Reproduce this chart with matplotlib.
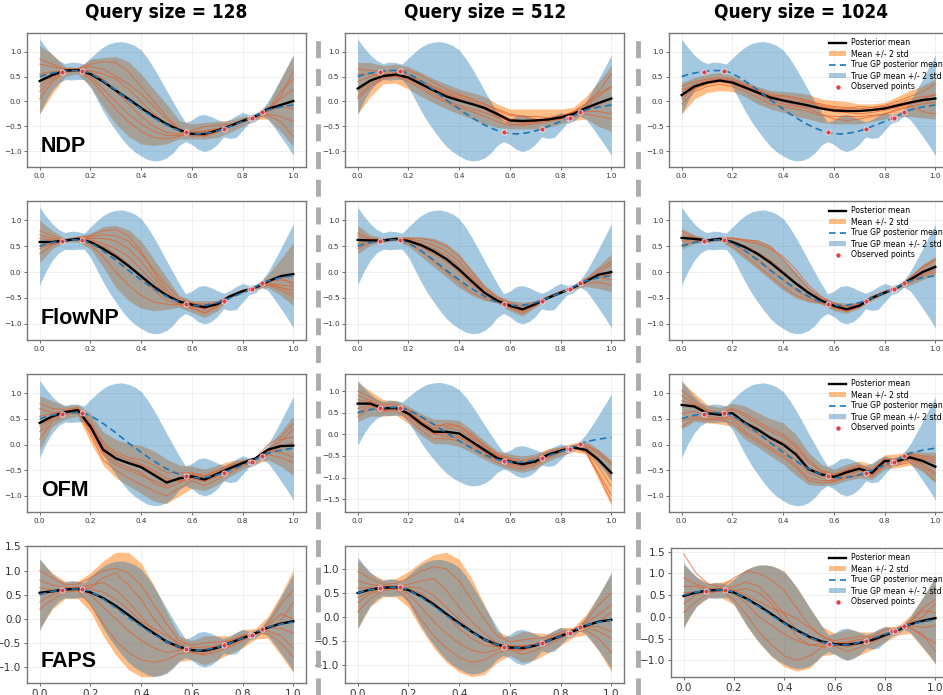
import numpy as np
import matplotlib
matplotlib.use("Agg")
import matplotlib.pyplot as plt
from matplotlib.lines import Line2D
from matplotlib.ticker import MultipleLocator
from matplotlib import font_manager as fm

# ---------------- data ----------------
# shared grid (x) for model outputs
x_grid = [0.00, 0.05, 0.10, 0.15, 0.20, 0.25, 0.30, 0.35, 0.40, 0.45, 0.50,
          0.55, 0.60, 0.65, 0.70, 0.75, 0.80, 0.85, 0.90, 0.95, 1.00]
# finer grid for the true GP posterior
x_true = [0.000, 0.025, 0.050, 0.075, 0.100, 0.125, 0.150, 0.175, 0.200, 0.225,
          0.250, 0.275, 0.300, 0.325, 0.350, 0.375, 0.400, 0.425, 0.450, 0.475,
          0.500, 0.525, 0.550, 0.575, 0.600, 0.625, 0.650, 0.675, 0.700, 0.725,
          0.750, 0.775, 0.800, 0.825, 0.850, 0.875, 0.900, 0.925, 0.950, 0.975, 1.000]
true_mean = [0.50, 0.54, 0.57, 0.59, 0.61, 0.62, 0.62, 0.61, 0.56, 0.49, 0.41, 0.32, 0.23,
             0.13, 0.03, -0.06, -0.15, -0.24, -0.32, -0.40, -0.47, -0.53, -0.58, -0.62,
             -0.64, -0.65, -0.64, -0.62, -0.59, -0.55, -0.50, -0.45, -0.40, -0.35, -0.29,
             -0.22, -0.17, -0.14, -0.11, -0.09, -0.07]
true_hi = [1.25, 1.08, 0.93, 0.82, 0.76, 0.79, 0.78, 0.75, 0.87, 0.99, 1.09, 1.16, 1.19,
           1.20, 1.17, 1.12, 1.03, 0.87, 0.67, 0.45, 0.22, 0.00, -0.22, -0.42, -0.37,
           -0.28, -0.26, -0.30, -0.36, -0.41, -0.36, -0.28, -0.22, -0.26, -0.24, -0.16,
           0.00, 0.22, 0.45, 0.69, 0.93]
true_lo = [-0.25, 0.02, 0.23, 0.37, 0.44, 0.43, 0.44, 0.44, 0.29, 0.05, -0.19, -0.40, -0.58,
           -0.75, -0.90, -1.01, -1.09, -1.16, -1.19, -1.18, -1.13, -1.03, -0.88, -0.80,
           -0.86, -0.96, -1.00, -0.96, -0.86, -0.71, -0.74, -0.72, -0.58, -0.44, -0.40,
           -0.29, -0.36, -0.52, -0.70, -0.88, -1.08]
obs_x = [0.088, 0.165, 0.577, 0.725, 0.828, 0.838, 0.875]
obs_y = [0.60, 0.62, -0.62, -0.55, -0.33, -0.33, -0.22]

methods = ["NDP", "FlowNP", "OFM", "FAPS"]
query_sizes = [128, 512, 1024]

# ---- NDP ----
ndp128_mean = [0.41, 0.53, 0.62, 0.63, 0.55, 0.40, 0.22, 0.05, -0.13, -0.30, -0.45, -0.57, -0.65, -0.65, -0.58, -0.49, -0.39, -0.30, -0.15, -0.07, 0.01]
ndp128_hi = [1.12, 0.95, 0.70, 0.68, 0.85, 0.88, 0.90, 0.80, 0.55, 0.25, -0.05, -0.38, -0.45, -0.42, -0.40, -0.37, -0.30, -0.27, -0.05, 0.45, 0.93]
ndp128_lo = [-0.25, 0.15, 0.50, 0.55, 0.30, -0.10, -0.45, -0.70, -0.85, -0.88, -0.85, -0.75, -0.75, -0.75, -0.72, -0.62, -0.50, -0.36, -0.35, -0.60, -0.90]
ndp128_samples = [
    [0.85, 0.75, 0.65, 0.66, 0.75, 0.80, 0.78, 0.60, 0.30, 0.00, -0.30, -0.55, -0.62, -0.60, -0.55, -0.48, -0.38, -0.30, -0.20, 0.10, 0.60],
    [0.05, 0.40, 0.58, 0.62, 0.50, 0.25, 0.00, -0.25, -0.45, -0.60, -0.68, -0.68, -0.66, -0.64, -0.58, -0.50, -0.40, -0.32, -0.28, -0.40, -0.70],
    [0.55, 0.60, 0.62, 0.64, 0.62, 0.55, 0.45, 0.25, 0.00, -0.25, -0.45, -0.60, -0.70, -0.68, -0.60, -0.48, -0.36, -0.28, -0.15, 0.05, 0.25],
    [0.30, 0.50, 0.60, 0.60, 0.45, 0.15, -0.15, -0.40, -0.60, -0.72, -0.75, -0.70, -0.62, -0.58, -0.55, -0.50, -0.42, -0.30, -0.25, -0.30, -0.40],
    [0.75, 0.70, 0.63, 0.65, 0.70, 0.65, 0.50, 0.35, 0.15, -0.10, -0.35, -0.55, -0.65, -0.70, -0.62, -0.50, -0.40, -0.30, -0.20, -0.10, -0.15],
    [0.20, 0.45, 0.60, 0.63, 0.60, 0.45, 0.20, -0.05, -0.30, -0.50, -0.62, -0.65, -0.58, -0.50, -0.48, -0.45, -0.40, -0.28, -0.18, 0.20, 0.45],
]
ndp512_mean = [0.26, 0.42, 0.51, 0.54, 0.48, 0.35, 0.22, 0.10, 0.02, -0.05, -0.13, -0.25, -0.38, -0.39, -0.38, -0.36, -0.32, -0.25, -0.13, -0.03, 0.06]
ndp512_hi = [0.78, 0.78, 0.72, 0.75, 0.70, 0.58, 0.45, 0.35, 0.25, 0.18, 0.10, -0.05, -0.15, -0.15, -0.15, -0.15, -0.15, -0.12, 0.10, 0.40, 0.72]
ndp512_lo = [-0.25, 0.10, 0.35, 0.37, 0.25, 0.10, -0.03, -0.15, -0.25, -0.35, -0.45, -0.52, -0.55, -0.55, -0.55, -0.52, -0.45, -0.38, -0.35, -0.50, -0.60]
ndp512_samples = [
    [0.65, 0.62, 0.60, 0.63, 0.62, 0.52, 0.38, 0.25, 0.15, 0.05, -0.05, -0.18, -0.28, -0.30, -0.30, -0.32, -0.28, -0.22, -0.05, 0.15, 0.30],
    [0.05, 0.30, 0.45, 0.50, 0.40, 0.25, 0.10, -0.02, -0.12, -0.20, -0.30, -0.40, -0.48, -0.45, -0.42, -0.38, -0.35, -0.30, -0.25, -0.30, -0.35],
    [0.40, 0.50, 0.55, 0.58, 0.55, 0.42, 0.30, 0.20, 0.12, 0.05, -0.05, -0.15, -0.25, -0.30, -0.35, -0.38, -0.30, -0.20, -0.05, 0.20, 0.55],
    [0.20, 0.40, 0.50, 0.52, 0.45, 0.30, 0.15, 0.02, -0.08, -0.15, -0.22, -0.32, -0.45, -0.48, -0.45, -0.40, -0.35, -0.28, -0.18, -0.05, 0.05],
    [0.55, 0.55, 0.52, 0.55, 0.50, 0.40, 0.28, 0.15, 0.08, 0.00, -0.10, -0.22, -0.35, -0.38, -0.38, -0.35, -0.30, -0.25, -0.20, -0.20, -0.25],
    [0.10, 0.35, 0.48, 0.52, 0.45, 0.35, 0.25, 0.15, 0.05, -0.05, -0.15, -0.30, -0.40, -0.42, -0.40, -0.35, -0.30, -0.22, -0.10, 0.10, 0.30],
]
ndp1024_mean = [0.13, 0.30, 0.38, 0.42, 0.38, 0.28, 0.18, 0.08, 0.02, -0.03, -0.08, -0.14, -0.18, -0.19, -0.19, -0.17, -0.14, -0.08, -0.02, 0.03, 0.06]
ndp1024_hi = [0.38, 0.48, 0.55, 0.58, 0.52, 0.40, 0.30, 0.22, 0.20, 0.18, 0.14, 0.05, 0.02, 0.00, -0.05, -0.05, -0.02, 0.10, 0.22, 0.32, 0.45]
ndp1024_lo = [-0.25, 0.05, 0.18, 0.22, 0.20, 0.10, -0.05, -0.15, -0.22, -0.30, -0.35, -0.42, -0.45, -0.45, -0.45, -0.40, -0.35, -0.30, -0.30, -0.33, -0.35]
ndp1024_samples = [
    [0.30, 0.40, 0.45, 0.48, 0.45, 0.35, 0.25, 0.15, 0.10, 0.05, 0.00, -0.05, -0.10, -0.12, -0.15, -0.12, -0.08, 0.00, 0.10, 0.20, 0.35],
    [-0.05, 0.20, 0.30, 0.35, 0.30, 0.20, 0.08, -0.05, -0.10, -0.15, -0.20, -0.28, -0.30, -0.30, -0.30, -0.28, -0.25, -0.18, -0.10, -0.05, -0.02],
    [0.20, 0.35, 0.42, 0.45, 0.42, 0.32, 0.22, 0.12, 0.05, 0.00, -0.02, -0.10, -0.15, -0.18, -0.20, -0.18, -0.15, -0.10, -0.05, 0.05, 0.15],
    [0.05, 0.25, 0.35, 0.40, 0.35, 0.25, 0.15, 0.05, 0.00, -0.08, -0.15, -0.25, -0.35, -0.38, -0.35, -0.30, -0.25, -0.15, -0.10, -0.20, -0.25],
    [0.25, 0.30, 0.38, 0.40, 0.38, 0.30, 0.20, 0.10, 0.12, 0.08, 0.02, -0.08, -0.12, -0.15, -0.10, -0.12, -0.10, -0.05, 0.05, 0.10, 0.12],
    [0.10, 0.28, 0.36, 0.42, 0.40, 0.28, 0.15, 0.02, -0.05, -0.10, -0.12, -0.15, -0.20, -0.22, -0.25, -0.22, -0.18, -0.12, -0.05, 0.00, 0.05],
]

# ---- FlowNP ----
flownp128_mean = [0.58, 0.58, 0.61, 0.64, 0.58, 0.45, 0.30, 0.12, -0.08, -0.28, -0.45, -0.57, -0.63, -0.68, -0.62, -0.47, -0.37, -0.30, -0.18, -0.08, -0.04]
flownp128_hi = [1.00, 0.80, 0.65, 0.70, 0.75, 0.88, 0.90, 0.82, 0.60, 0.25, -0.10, -0.45, -0.55, -0.55, -0.55, -0.45, -0.33, -0.30, -0.05, 0.25, 0.57]
flownp128_lo = [0.18, 0.45, 0.58, 0.58, 0.45, 0.10, -0.30, -0.55, -0.70, -0.75, -0.72, -0.68, -0.78, -0.88, -0.75, -0.50, -0.40, -0.33, -0.30, -0.45, -0.65]
flownp128_samples = [
    [0.80, 0.70, 0.63, 0.66, 0.70, 0.80, 0.82, 0.70, 0.40, 0.00, -0.35, -0.55, -0.60, -0.65, -0.60, -0.45, -0.35, -0.30, -0.22, -0.25, -0.28],
    [0.35, 0.52, 0.60, 0.62, 0.52, 0.30, 0.00, -0.25, -0.45, -0.58, -0.62, -0.63, -0.70, -0.80, -0.68, -0.50, -0.38, -0.31, -0.25, -0.30, -0.42],
    [0.65, 0.62, 0.61, 0.65, 0.65, 0.65, 0.60, 0.45, 0.20, -0.10, -0.40, -0.58, -0.65, -0.72, -0.62, -0.46, -0.36, -0.30, -0.18, -0.15, -0.20],
    [0.50, 0.55, 0.60, 0.63, 0.60, 0.50, 0.35, 0.15, -0.10, -0.35, -0.55, -0.62, -0.68, -0.78, -0.65, -0.48, -0.38, -0.31, -0.20, -0.30, -0.35],
    [0.72, 0.65, 0.62, 0.65, 0.68, 0.72, 0.70, 0.60, 0.35, 0.05, -0.25, -0.50, -0.60, -0.62, -0.58, -0.45, -0.35, -0.30, -0.25, -0.35, -0.48],
    [0.45, 0.55, 0.60, 0.64, 0.62, 0.55, 0.45, 0.30, 0.05, -0.20, -0.45, -0.60, -0.66, -0.70, -0.64, -0.47, -0.37, -0.30, -0.15, -0.10, -0.25],
]
flownp512_mean = [0.62, 0.61, 0.61, 0.64, 0.60, 0.52, 0.40, 0.25, 0.05, -0.18, -0.40, -0.55, -0.65, -0.72, -0.62, -0.50, -0.40, -0.30, -0.18, -0.05, 0.00]
flownp512_hi = [0.90, 0.72, 0.66, 0.68, 0.68, 0.68, 0.65, 0.55, 0.35, 0.05, -0.25, -0.45, -0.55, -0.58, -0.55, -0.45, -0.35, -0.30, -0.10, 0.12, 0.35]
flownp512_lo = [0.35, 0.52, 0.57, 0.60, 0.50, 0.30, 0.10, -0.10, -0.30, -0.45, -0.55, -0.60, -0.75, -0.85, -0.68, -0.52, -0.42, -0.33, -0.28, -0.32, -0.38]
flownp512_samples = [
    [0.75, 0.65, 0.62, 0.66, 0.66, 0.65, 0.60, 0.50, 0.30, 0.00, -0.28, -0.48, -0.60, -0.65, -0.58, -0.47, -0.37, -0.30, -0.15, 0.05, 0.20],
    [0.45, 0.56, 0.60, 0.62, 0.55, 0.40, 0.20, 0.00, -0.20, -0.40, -0.52, -0.58, -0.70, -0.80, -0.66, -0.51, -0.40, -0.31, -0.22, -0.20, -0.25],
    [0.62, 0.62, 0.61, 0.64, 0.62, 0.55, 0.45, 0.32, 0.12, -0.12, -0.38, -0.55, -0.66, -0.74, -0.63, -0.50, -0.40, -0.30, -0.18, -0.08, -0.05],
    [0.55, 0.58, 0.61, 0.63, 0.58, 0.48, 0.35, 0.20, 0.00, -0.25, -0.45, -0.56, -0.68, -0.77, -0.64, -0.50, -0.40, -0.31, -0.20, 0.00, 0.15],
    [0.70, 0.63, 0.61, 0.65, 0.64, 0.60, 0.52, 0.40, 0.20, -0.08, -0.33, -0.50, -0.62, -0.70, -0.60, -0.48, -0.38, -0.30, -0.12, -0.10, -0.15],
]
flownp1024_mean = [0.66, 0.64, 0.61, 0.64, 0.58, 0.48, 0.35, 0.18, -0.02, -0.22, -0.40, -0.55, -0.65, -0.72, -0.65, -0.50, -0.40, -0.30, -0.15, 0.00, 0.10]
flownp1024_hi = [0.85, 0.72, 0.65, 0.68, 0.68, 0.65, 0.62, 0.50, 0.25, 0.00, -0.28, -0.48, -0.58, -0.60, -0.58, -0.45, -0.35, -0.30, -0.08, 0.15, 0.30]
flownp1024_lo = [0.45, 0.55, 0.57, 0.60, 0.45, 0.25, 0.05, -0.15, -0.35, -0.50, -0.58, -0.62, -0.75, -0.80, -0.70, -0.55, -0.42, -0.33, -0.25, -0.15, -0.05]
flownp1024_samples = [
    [0.78, 0.68, 0.62, 0.66, 0.66, 0.62, 0.60, 0.50, 0.25, -0.05, -0.32, -0.50, -0.60, -0.66, -0.60, -0.47, -0.37, -0.30, -0.10, 0.10, 0.25],
    [0.52, 0.58, 0.60, 0.62, 0.50, 0.32, 0.12, -0.08, -0.28, -0.45, -0.55, -0.60, -0.70, -0.76, -0.68, -0.52, -0.41, -0.31, -0.20, -0.08, 0.00],
    [0.66, 0.64, 0.61, 0.64, 0.60, 0.50, 0.38, 0.22, 0.02, -0.20, -0.38, -0.54, -0.66, -0.74, -0.66, -0.50, -0.40, -0.30, -0.15, 0.02, 0.12],
    [0.60, 0.60, 0.61, 0.63, 0.55, 0.40, 0.25, 0.05, -0.15, -0.35, -0.50, -0.58, -0.68, -0.75, -0.66, -0.51, -0.40, -0.31, -0.18, -0.05, 0.05],
    [0.72, 0.66, 0.62, 0.65, 0.65, 0.60, 0.55, 0.45, 0.30, 0.05, -0.25, -0.47, -0.60, -0.68, -0.62, -0.48, -0.38, -0.30, -0.12, 0.08, 0.22],
]

# ---- OFM ----
ofm128_mean = [0.42, 0.55, 0.63, 0.67, 0.35, -0.10, -0.27, -0.36, -0.44, -0.59, -0.74, -0.66, -0.62, -0.68, -0.57, -0.46, -0.36, -0.27, -0.10, -0.03, -0.02]
ofm128_hi = [0.95, 0.85, 0.75, 0.78, 0.60, 0.25, 0.10, 0.02, -0.02, -0.12, -0.28, -0.40, -0.42, -0.48, -0.40, -0.32, -0.28, -0.25, -0.05, 0.25, 0.55]
ofm128_lo = [-0.10, 0.35, 0.50, 0.55, 0.05, -0.40, -0.65, -0.80, -0.95, -1.10, -1.15, -1.00, -0.85, -0.90, -0.78, -0.62, -0.48, -0.38, -0.30, -0.42, -0.60]
ofm128_samples = [
    [0.80, 0.70, 0.68, 0.72, 0.45, 0.05, -0.15, -0.25, -0.30, -0.40, -0.55, -0.55, -0.55, -0.60, -0.50, -0.40, -0.32, -0.27, -0.15, 0.05, 0.30],
    [0.10, 0.45, 0.58, 0.62, 0.20, -0.30, -0.50, -0.65, -0.78, -0.90, -1.00, -0.85, -0.70, -0.80, -0.68, -0.55, -0.42, -0.30, -0.20, -0.25, -0.35],
    [0.55, 0.60, 0.65, 0.70, 0.38, -0.05, -0.25, -0.35, -0.40, -0.55, -0.70, -0.70, -0.65, -0.70, -0.60, -0.48, -0.38, -0.28, -0.10, 0.10, 0.15],
    [0.35, 0.52, 0.62, 0.66, 0.30, -0.15, -0.35, -0.45, -0.55, -0.75, -0.85, -0.75, -0.60, -0.65, -0.55, -0.45, -0.35, -0.27, -0.12, -0.15, -0.25],
    [0.70, 0.62, 0.64, 0.68, 0.25, -0.20, -0.40, -0.50, -0.60, -0.70, -0.80, -0.62, -0.58, -0.62, -0.52, -0.42, -0.35, -0.28, 0.00, 0.15, 0.40],
    [0.25, 0.50, 0.60, 0.64, 0.40, 0.00, -0.20, -0.30, -0.38, -0.50, -0.65, -0.72, -0.66, -0.72, -0.62, -0.50, -0.38, -0.28, -0.18, -0.05, 0.05],
]
ofm512_mean = [0.71, 0.71, 0.60, 0.61, 0.48, 0.25, 0.06, 0.06, 0.02, -0.17, -0.36, -0.55, -0.63, -0.69, -0.63, -0.47, -0.38, -0.30, -0.36, -0.59, -0.89]
ofm512_hi = [1.20, 1.00, 0.80, 0.78, 0.65, 0.48, 0.35, 0.35, 0.32, 0.10, -0.15, -0.38, -0.45, -0.50, -0.45, -0.33, -0.28, -0.20, -0.15, -0.35, -0.60]
ofm512_lo = [0.30, 0.42, 0.42, 0.45, 0.25, -0.02, -0.22, -0.22, -0.28, -0.42, -0.58, -0.72, -0.82, -0.88, -0.80, -0.62, -0.50, -0.40, -0.45, -1.05, -1.65]
ofm512_samples = [
    [1.00, 0.85, 0.70, 0.70, 0.58, 0.38, 0.22, 0.20, 0.18, -0.05, -0.25, -0.45, -0.55, -0.60, -0.55, -0.40, -0.33, -0.27, -0.25, -0.45, -0.70],
    [0.40, 0.60, 0.52, 0.55, 0.35, 0.10, -0.10, -0.10, -0.15, -0.30, -0.50, -0.65, -0.75, -0.80, -0.72, -0.55, -0.42, -0.32, -0.40, -0.90, -1.40],
    [0.80, 0.75, 0.62, 0.62, 0.50, 0.30, 0.12, 0.15, 0.10, -0.10, -0.30, -0.50, -0.60, -0.68, -0.62, -0.47, -0.38, -0.30, -0.30, -0.55, -1.00],
    [0.60, 0.68, 0.58, 0.60, 0.42, 0.18, 0.00, -0.05, -0.08, -0.25, -0.42, -0.60, -0.70, -0.72, -0.65, -0.50, -0.40, -0.31, -0.38, -0.75, -1.20],
    [0.90, 0.78, 0.66, 0.64, 0.55, 0.30, 0.15, 0.25, 0.20, 0.00, -0.25, -0.48, -0.58, -0.65, -0.58, -0.45, -0.36, -0.28, -0.25, -0.40, -0.65],
    [0.50, 0.65, 0.55, 0.58, 0.45, 0.22, 0.02, 0.02, -0.05, -0.20, -0.40, -0.58, -0.68, -0.75, -0.68, -0.52, -0.40, -0.30, -0.42, -0.95, -1.55],
]
ofm1024_mean = [0.77, 0.74, 0.61, 0.58, 0.61, 0.42, 0.29, 0.13, 0.00, -0.19, -0.48, -0.58, -0.63, -0.54, -0.47, -0.55, -0.32, -0.32, -0.25, -0.32, -0.43]
ofm1024_hi = [1.22, 1.00, 0.78, 0.72, 0.80, 0.75, 0.62, 0.50, 0.42, 0.20, -0.15, -0.38, -0.48, -0.38, -0.32, -0.38, -0.20, -0.18, -0.12, -0.15, -0.15]
ofm1024_lo = [0.30, 0.45, 0.42, 0.40, 0.35, 0.10, -0.05, -0.22, -0.38, -0.60, -0.78, -0.80, -0.78, -0.70, -0.65, -0.68, -0.48, -0.45, -0.40, -0.52, -0.75]
ofm1024_samples = [
    [1.05, 0.85, 0.68, 0.62, 0.70, 0.60, 0.45, 0.30, 0.20, 0.00, -0.30, -0.50, -0.58, -0.48, -0.40, -0.48, -0.28, -0.28, -0.20, -0.25, -0.30],
    [0.45, 0.55, 0.50, 0.50, 0.50, 0.25, 0.10, -0.05, -0.20, -0.40, -0.65, -0.70, -0.70, -0.62, -0.58, -0.60, -0.40, -0.38, -0.30, -0.42, -0.60],
    [0.85, 0.78, 0.62, 0.58, 0.62, 0.45, 0.32, 0.15, 0.05, -0.12, -0.45, -0.55, -0.62, -0.52, -0.45, -0.55, -0.30, -0.30, -0.22, -0.28, -0.35],
    [0.60, 0.65, 0.55, 0.52, 0.55, 0.35, 0.20, 0.05, -0.10, -0.30, -0.55, -0.65, -0.68, -0.58, -0.52, -0.58, -0.35, -0.34, -0.28, -0.38, -0.55],
    [0.95, 0.80, 0.65, 0.60, 0.68, 0.55, 0.40, 0.25, 0.15, -0.05, -0.35, -0.52, -0.60, -0.50, -0.42, -0.50, -0.30, -0.30, -0.18, -0.22, -0.25],
    [0.35, 0.50, 0.48, 0.48, 0.42, 0.20, 0.05, -0.10, -0.25, -0.45, -0.70, -0.75, -0.72, -0.65, -0.60, -0.62, -0.42, -0.40, -0.35, -0.48, -0.70],
]

# ---- FAPS ----
faps128_mean = [0.54, 0.57, 0.61, 0.62, 0.55, 0.43, 0.27, 0.08, -0.12, -0.30, -0.47, -0.58, -0.65, -0.66, -0.60, -0.50, -0.40, -0.30, -0.18, -0.10, -0.05]
faps128_hi = [1.22, 0.95, 0.78, 0.78, 0.95, 1.20, 1.38, 1.38, 1.15, 0.70, 0.15, -0.35, -0.45, -0.35, -0.35, -0.35, -0.22, -0.20, 0.05, 0.50, 1.02]
faps128_lo = [-0.20, 0.20, 0.42, 0.42, 0.15, -0.35, -0.75, -1.05, -1.20, -1.20, -1.12, -0.88, -0.85, -0.95, -0.85, -0.72, -0.60, -0.42, -0.40, -0.75, -1.12]
faps128_samples = [
    [1.00, 0.85, 0.70, 0.72, 0.85, 1.00, 1.05, 0.95, 0.70, 0.30, -0.10, -0.45, -0.55, -0.50, -0.48, -0.45, -0.35, -0.28, -0.10, 0.30, 0.60],
    [0.20, 0.40, 0.55, 0.58, 0.30, -0.10, -0.45, -0.70, -0.85, -0.90, -0.85, -0.72, -0.70, -0.75, -0.68, -0.58, -0.45, -0.32, -0.30, -0.50, -0.80],
    [0.65, 0.60, 0.62, 0.66, 0.70, 0.75, 0.60, 0.35, 0.05, -0.25, -0.50, -0.62, -0.70, -0.72, -0.62, -0.50, -0.38, -0.30, -0.20, -0.05, 0.35],
    [0.35, 0.50, 0.60, 0.60, 0.50, 0.25, 0.00, -0.25, -0.45, -0.60, -0.70, -0.65, -0.60, -0.58, -0.58, -0.55, -0.42, -0.30, -0.25, -0.35, -0.60],
    [0.80, 0.70, 0.65, 0.65, 0.62, 0.55, 0.40, 0.20, -0.05, -0.20, -0.35, -0.50, -0.62, -0.65, -0.55, -0.45, -0.35, -0.28, -0.15, 0.10, 0.00],
    [0.50, 0.55, 0.60, 0.63, 0.65, 0.85, 0.95, 0.70, 0.40, 0.00, -0.30, -0.55, -0.65, -0.62, -0.58, -0.48, -0.38, -0.30, -0.18, -0.20, -0.30],
]
faps512_mean = [0.50, 0.57, 0.61, 0.62, 0.56, 0.43, 0.26, 0.06, -0.13, -0.31, -0.47, -0.58, -0.64, -0.65, -0.60, -0.50, -0.40, -0.30, -0.18, -0.10, -0.06]
faps512_hi = [1.20, 0.92, 0.78, 0.80, 0.95, 1.15, 1.30, 1.35, 1.20, 0.80, 0.25, -0.30, -0.42, -0.30, -0.33, -0.35, -0.22, -0.22, 0.05, 0.45, 0.90]
faps512_lo = [-0.25, 0.22, 0.42, 0.42, 0.20, -0.25, -0.65, -0.95, -1.15, -1.25, -1.20, -0.95, -0.80, -0.95, -0.90, -0.75, -0.60, -0.42, -0.38, -0.70, -1.15]
faps512_samples = [
    [0.95, 0.80, 0.68, 0.70, 0.80, 0.95, 1.05, 1.00, 0.75, 0.35, -0.05, -0.40, -0.52, -0.48, -0.45, -0.42, -0.32, -0.26, -0.08, 0.25, 0.50],
    [0.10, 0.38, 0.55, 0.58, 0.35, -0.05, -0.40, -0.65, -0.85, -0.95, -0.90, -0.75, -0.68, -0.78, -0.70, -0.58, -0.45, -0.32, -0.28, -0.45, -0.75],
    [0.60, 0.62, 0.62, 0.64, 0.62, 0.60, 0.45, 0.20, -0.05, -0.30, -0.50, -0.62, -0.68, -0.70, -0.62, -0.50, -0.40, -0.30, -0.20, -0.10, 0.10],
    [0.40, 0.52, 0.60, 0.60, 0.48, 0.20, -0.10, -0.35, -0.55, -0.70, -0.75, -0.68, -0.62, -0.60, -0.58, -0.52, -0.42, -0.31, -0.22, -0.30, -0.45],
    [0.75, 0.68, 0.64, 0.65, 0.68, 0.75, 0.80, 0.55, 0.20, -0.10, -0.35, -0.55, -0.60, -0.62, -0.56, -0.46, -0.36, -0.28, -0.12, 0.05, 0.25],
    [0.30, 0.48, 0.58, 0.62, 0.58, 0.50, 0.30, 0.05, -0.25, -0.45, -0.60, -0.62, -0.66, -0.68, -0.60, -0.50, -0.40, -0.30, -0.20, -0.20, -0.30],
]
faps1024_mean = [0.48, 0.56, 0.61, 0.62, 0.56, 0.42, 0.25, 0.06, -0.14, -0.31, -0.46, -0.57, -0.63, -0.64, -0.60, -0.53, -0.42, -0.31, -0.17, -0.09, -0.03]
faps1024_hi = [1.20, 0.92, 0.78, 0.80, 0.88, 1.10, 1.20, 1.18, 1.05, 0.68, 0.22, -0.22, -0.38, -0.28, -0.35, -0.35, -0.22, -0.22, 0.03, 0.45, 0.90]
faps1024_lo = [-0.25, 0.24, 0.44, 0.44, 0.28, -0.20, -0.60, -0.92, -1.15, -1.25, -1.18, -0.90, -0.85, -1.00, -0.88, -0.75, -0.58, -0.42, -0.38, -0.72, -1.08]
faps1024_samples = [
    [1.45, 1.00, 0.75, 0.70, 0.90, 1.05, 1.00, 0.85, 0.60, 0.20, -0.20, -0.45, -0.55, -0.50, -0.45, -0.45, -0.30, -0.25, -0.10, 0.20, 0.40],
    [0.10, 0.35, 0.55, 0.60, 0.40, 0.05, -0.35, -0.65, -0.90, -1.00, -0.90, -0.70, -0.68, -0.80, -0.70, -0.60, -0.45, -0.32, -0.25, -0.45, -0.60],
    [0.70, 0.70, 0.62, 0.64, 0.70, 0.80, 0.70, 0.40, 0.05, -0.30, -0.50, -0.60, -0.64, -0.62, -0.60, -0.55, -0.40, -0.30, -0.15, 0.00, 0.30],
    [0.30, 0.50, 0.60, 0.62, 0.55, 0.30, 0.00, -0.20, -0.40, -0.55, -0.65, -0.62, -0.62, -0.70, -0.62, -0.52, -0.42, -0.32, -0.25, -0.40, -0.80],
    [0.90, 0.75, 0.66, 0.66, 0.62, 0.50, 0.35, 0.20, 0.10, -0.05, -0.25, -0.45, -0.60, -0.58, -0.52, -0.48, -0.38, -0.30, -0.12, 0.15, 0.10],
    [0.55, 0.58, 0.60, 0.62, 0.60, 0.65, 0.55, 0.30, -0.10, -0.45, -0.65, -0.68, -0.62, -0.60, -0.58, -0.55, -0.42, -0.30, -0.20, -0.25, -0.20],
]

panel_data = {
    ("NDP", 128): (ndp128_mean, ndp128_lo, ndp128_hi, ndp128_samples),
    ("NDP", 512): (ndp512_mean, ndp512_lo, ndp512_hi, ndp512_samples),
    ("NDP", 1024): (ndp1024_mean, ndp1024_lo, ndp1024_hi, ndp1024_samples),
    ("FlowNP", 128): (flownp128_mean, flownp128_lo, flownp128_hi, flownp128_samples),
    ("FlowNP", 512): (flownp512_mean, flownp512_lo, flownp512_hi, flownp512_samples),
    ("FlowNP", 1024): (flownp1024_mean, flownp1024_lo, flownp1024_hi, flownp1024_samples),
    ("OFM", 128): (ofm128_mean, ofm128_lo, ofm128_hi, ofm128_samples),
    ("OFM", 512): (ofm512_mean, ofm512_lo, ofm512_hi, ofm512_samples),
    ("OFM", 1024): (ofm1024_mean, ofm1024_lo, ofm1024_hi, ofm1024_samples),
    ("FAPS", 128): (faps128_mean, faps128_lo, faps128_hi, faps128_samples),
    ("FAPS", 512): (faps512_mean, faps512_lo, faps512_hi, faps512_samples),
    ("FAPS", 1024): (faps1024_mean, faps1024_lo, faps1024_hi, faps1024_samples),
}

# ---------------- fonts ----------------
def find_narrow_bold():
    tries = [dict(family="Liberation Sans Narrow", weight="bold"),
             dict(family="DejaVu Sans", weight="bold", stretch="condensed")]
    for kw in tries:
        try:
            p = fm.findfont(fm.FontProperties(**kw), fallback_to_default=False)
            name = p.lower()
            if "narrow" in name or "condensed" in name:
                return fm.FontProperties(fname=p), name
        except Exception:
            pass
    return fm.FontProperties(family="DejaVu Sans", weight="bold"), ""

title_fp, title_name = find_narrow_bold()
if "narrow" in title_name:
    title_fp.set_size(15.5)
elif "condensed" in title_name:
    title_fp.set_size(13.6)
else:
    title_fp.set_size(12)

# ---------------- layout (pixels) ----------------
W, H = 943, 695
row_tb = [(33, 167), (201, 340), (374, 512), (546, 683)]
col_lr = [(27, 306), (345, 624), (669, 948)]

fig = plt.figure(figsize=(W / 100, H / 100), dpi=100)
fig.patch.set_facecolor("white")

C_BLUE = "#1f77b4"
C_ORANGE = "#ff7f0e"
C_SAMPLE = "#e4602e"
C_OBS = "#d8434e"

for r, method in enumerate(methods):
    for c, q in enumerate(query_sizes):
        t, b = row_tb[r]
        l, rr = col_lr[c]
        if r == 3 and c == 2:
            t, b, l = 548, 677, 671
        ax = fig.add_axes([l / W, 1 - b / H, (rr - l) / W, (b - t) / H])
        mean, lo, hi, samples = panel_data[(method, q)]
        ax.fill_between(x_grid, lo, hi, color=C_ORANGE, alpha=0.5, lw=0,
                        label="Mean +/- 2 std", zorder=1)
        ax.fill_between(x_true, true_lo, true_hi, color=C_BLUE, alpha=0.4, lw=0,
                        label="True GP mean +/- 2 std", zorder=2)
        for s in samples:
            ax.plot(x_grid, s, color=C_SAMPLE, lw=0.7, alpha=0.75, zorder=3)
        ax.plot(x_grid, mean, color="black", lw=1.7, label="Posterior mean", zorder=4)
        ax.plot(x_true, true_mean, color=C_BLUE, lw=1.2, ls=(0, (4, 2.5)),
                label="True GP posterior mean", zorder=5)
        ax.scatter(obs_x, obs_y, s=14, color=C_OBS, edgecolor="white", linewidth=0.5,
                   label="Observed points", zorder=6)
        ax.xaxis.set_major_locator(MultipleLocator(0.2))
        ax.yaxis.set_major_locator(MultipleLocator(0.5))
        fs = 7.5 if r == 3 else 5.2
        ax.tick_params(labelsize=fs, length=2, width=0.6, color="#555555",
                       labelcolor="#333333", pad=2)
        ax.grid(True, color="#e9e9e9", lw=0.5, zorder=0)
        ax.set_axisbelow(True)
        for sp in ax.spines.values():
            sp.set_color("#777777")
            sp.set_linewidth(1.0)
        if c == 2:
            h, lab = ax.get_legend_handles_labels()
            order = ["Posterior mean", "Mean +/- 2 std", "True GP posterior mean",
                     "True GP mean +/- 2 std", "Observed points"]
            hd = dict(zip(lab, h))
            ax.legend([hd[k] for k in order], order, loc="upper right", frameon=False,
                      fontsize=5.6, handlelength=2.2, labelspacing=0.25,
                      borderaxespad=0.3, handletextpad=0.6)
        if c == 0:
            ax.text(0.05, 0.115, method, transform=ax.transAxes, fontsize=15.5,
                    fontweight="bold", family="Liberation Sans", color="black",
                    ha="left", va="baseline", zorder=10)

# column titles
title_x = [166, 485, 801]
for q, tx in zip(query_sizes, title_x):
    fig.text(tx / W, 1 - 12 / H, f"Query size = {q}", ha="center", va="center",
             fontproperties=title_fp)

# dashed separators
for sx in [318, 638]:
    fig.add_artist(Line2D([sx / W, sx / W], [0, 1 - 30 / H], transform=fig.transFigure,
                          color="#ababab", lw=3.5, ls=(0, (3.5, 2.2))))

fig.savefig("out.png", dpi=100)
